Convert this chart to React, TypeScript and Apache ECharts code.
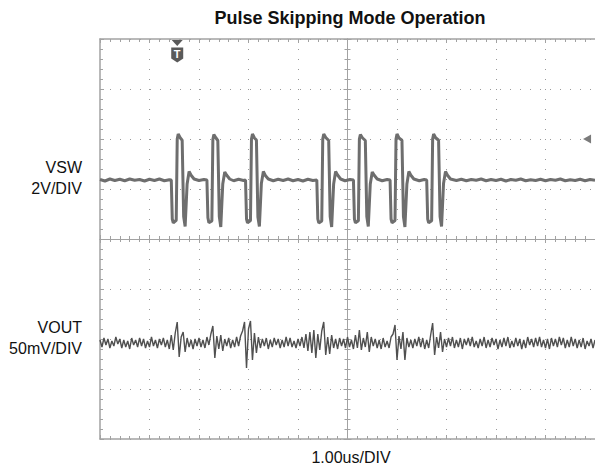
import React, { useEffect, useRef } from "react";
import * as echarts from "echarts";

// VSW trace, [time (us, 0 = screen centre), volts]
const vswPoints: [number, number][] = [
  [-5.0, 1.78], [-4.9, 1.72], [-4.8, 1.8], [-4.7, 1.74], [-4.6, 1.79], [-4.5, 1.73], [-4.4, 1.8],
  [-4.3, 1.75], [-4.2, 1.78], [-4.1, 1.72], [-4.0, 1.79], [-3.9, 1.74], [-3.8, 1.8], [-3.7, 1.73], [-3.6, 1.77],
  [-3.56, 1.76], [-3.54, 0.2], [-3.52, 0.05], [-3.46, 0.15], [-3.44, 3.4], [-3.42, 3.6], [-3.38, 3.45],
  [-3.34, 3.35], [-3.31, 0.3], [-3.28, -0.1], [-3.24, 1.6], [-3.2, 2.1], [-3.16, 1.95], [-3.1, 1.8],
  [-3.0, 1.74], [-2.9, 1.78],
  [-2.84, 1.76], [-2.82, 0.25], [-2.8, 0.05], [-2.74, 0.12], [-2.72, 3.38], [-2.7, 3.58], [-2.66, 3.45],
  [-2.62, 3.34], [-2.59, 0.3], [-2.56, -0.12], [-2.52, 1.6], [-2.48, 2.08], [-2.44, 1.95], [-2.38, 1.8],
  [-2.3, 1.73], [-2.2, 1.79], [-2.1, 1.74],
  [-2.06, 1.76], [-2.04, 0.2], [-2.02, 0.05], [-1.96, 0.14], [-1.94, 3.4], [-1.92, 3.6], [-1.88, 3.44],
  [-1.84, 3.36], [-1.81, 0.28], [-1.78, -0.1], [-1.74, 1.62], [-1.7, 2.1], [-1.66, 1.94], [-1.6, 1.8],
  [-1.5, 1.73], [-1.4, 1.79], [-1.3, 1.74], [-1.2, 1.8], [-1.1, 1.73], [-1.0, 1.78], [-0.9, 1.72],
  [-0.8, 1.79], [-0.7, 1.74],
  [-0.62, 1.76], [-0.6, 0.2], [-0.58, 0.04], [-0.52, 0.12], [-0.5, 3.4], [-0.48, 3.6], [-0.44, 3.46],
  [-0.38, 3.34], [-0.35, 0.3], [-0.32, -0.12], [-0.28, 1.6], [-0.24, 2.1], [-0.2, 1.96], [-0.14, 1.8],
  [-0.05, 1.73], [0.05, 1.78],
  [0.12, 1.76], [0.14, 0.2], [0.16, 0.05], [0.22, 0.13], [0.24, 3.4], [0.26, 3.58], [0.3, 3.45],
  [0.36, 3.34], [0.39, 0.3], [0.42, -0.1], [0.46, 1.6], [0.5, 2.08], [0.54, 1.95], [0.6, 1.8],
  [0.7, 1.73], [0.8, 1.78],
  [0.86, 1.76], [0.88, 0.2], [0.9, 0.05], [0.96, 0.14], [0.98, 3.4], [1.0, 3.6], [1.04, 3.44],
  [1.1, 3.35], [1.13, 0.3], [1.16, -0.12], [1.2, 1.6], [1.24, 2.1], [1.28, 1.95], [1.34, 1.8],
  [1.45, 1.73], [1.55, 1.78],
  [1.6, 1.76], [1.62, 0.2], [1.64, 0.05], [1.7, 0.13], [1.72, 3.4], [1.74, 3.6], [1.78, 3.45],
  [1.84, 3.35], [1.87, 0.3], [1.9, -0.1], [1.94, 1.62], [1.98, 2.1], [2.02, 1.95], [2.08, 1.8],
  [2.2, 1.74], [2.3, 1.79], [2.4, 1.73], [2.5, 1.78], [2.6, 1.75], [2.7, 1.8], [2.8, 1.73], [2.9, 1.78],
  [3.0, 1.74], [3.1, 1.79], [3.2, 1.72], [3.3, 1.78], [3.4, 1.75], [3.5, 1.8], [3.6, 1.73], [3.7, 1.77],
  [3.8, 1.74], [3.9, 1.79], [4.0, 1.73], [4.1, 1.78], [4.2, 1.75], [4.3, 1.8], [4.4, 1.73], [4.5, 1.77],
  [4.6, 1.74], [4.7, 1.79], [4.8, 1.73], [4.9, 1.78], [5.0, 1.75],
];

// VOUT trace (AC ripple, mV), sampled every voutStep us from voutStart
const voutStart = -5;
const voutStep = 0.04;
const voutMv: number[] = [
  3, -4, 5, -2, 4, -5, 2, -3, 6, -1,
  4, -5, 3, -4, 2, -6, 5, -2, 3, -4,
  5, -3, 4, -5, 2, -4, 6, -3, 3, -5,
  4, -2, 5, -4, 3, -6, 8, -7, 10, 21,
  -14, 6, 11, -9, 5, -4, 3, -6, 4, -3,
  5, -4, 3, -5, 6, -2, 9, 17, -15, 7,
  -6, 8, -8, 4, -3, 5, -5, 3, -4, 6,
  -3, 7, 12, 21, -25, 14, 22, -17, 10, -10,
  6, -5, 4, -3, 5, -6, 3, -4, 5, -2,
  4, -5, 3, -4, 6, -3, 5, -4, 2, -5,
  4, -3, 6, -5, 9, -8, 11, -10, 13, -15,
  9, -7, 12, 21, -12, 6, -11, 8, -5, 4,
  -6, 5, -3, 4, -5, 6, -4, 3, -6, 8,
  -5, 13, -7, 5, -4, 11, -9, 6, -3, 4,
  -5, 3, -6, 5, -4, 2, -5, 6, 9, 18,
  -17, 7, -6, 11, -17, 5, -4, 3, -5, 4,
  -3, 6, -4, 5, -6, 3, -5, 8, 20, -12,
  6, -5, 11, -9, 4, -4, 5, -3, 6, -5,
  3, -4, 5, -6, 4, -2, 5, -3, 6, -4,
  2, -5, 4, -3, 6, -5, 3, -4, 5, -2,
  4, -6, 3, -4, 5, -3, 6, -5, 2, -4,
  5, -3, 4, -6, 3, -5, 6, -2, 4, -4,
  5, -3, 6, -4, 3, -5, 4, -6, 5, -3,
  4, -4, 6, -2, 5, -5, 3, -4, 6, -3,
  4, -5, 3, -4, 5, -6, 2, -3, 4, -5,
  3,
];

const triggerTime = -3.44; // us
const triggerLevel = 3.4; // V
const titleText = "Pulse Skipping Mode Operation";
const timeScaleText = "1.00us/DIV";
const ch1Labels = ["VSW", "2V/DIV"];
const ch2Labels = ["VOUT", "50mV/DIV"];

const FONT = '"Liberation Sans", Arial, Helvetica, sans-serif';

export default function App() {
  const ref = useRef<HTMLDivElement>(null);

  useEffect(() => {
    if (!ref.current) return;
    const chart = echarts.init(ref.current, null, { renderer: "svg" });

    const borderColor = "#a2a2a2";
    const dotColor = "#9a9a9a";
    const traceColor = "#6e6e6e";

    const baseX = {
      type: "value",
      min: -5,
      max: 5,
      interval: 1,
      axisLabel: { show: false },
      splitLine: { show: false },
    };
    const baseGridY = {
      type: "value",
      min: -4,
      max: 4,
      interval: 1,
      axisLabel: { show: false },
      splitLine: { show: false },
    };

    const voutData = voutMv.map((v, i) => [voutStart + i * voutStep, v]);

    const textStyle = (text: string, size: number, bold: boolean, align: string) => ({
      text,
      font: `${bold ? "bold " : ""}${size}px ${FONT}`,
      fill: "#111111",
      textAlign: align,
      textVerticalAlign: "middle",
      align,
      verticalAlign: "middle",
    });

    const option: any = {
      animation: false,
      backgroundColor: "#ffffff",
      grid: { left: 100, top: 39, width: 500, height: 400, containLabel: false },
      xAxis: [
        {
          ...baseX,
          position: "bottom",
          axisLine: { show: true, onZero: true, onZeroAxisIndex: 0, lineStyle: { color: borderColor, width: 1 } },
          axisTick: { show: true, inside: true, length: 4, lineStyle: { color: borderColor } },
          minorTick: { show: true, splitNumber: 5, length: 3, lineStyle: { color: borderColor } },
          splitLine: { show: true, lineStyle: { color: dotColor, width: 1, type: [1, 9] } },
        },
        {
          ...baseX,
          position: "bottom",
          axisLine: { show: true, onZero: true, onZeroAxisIndex: 0, lineStyle: { color: borderColor, width: 1 } },
          axisTick: { show: true, inside: false, length: 4, lineStyle: { color: borderColor } },
          minorTick: { show: true, splitNumber: 5, length: 3, lineStyle: { color: borderColor } },
        },
        {
          ...baseX,
          position: "top",
          axisLine: { show: true, onZero: false, lineStyle: { color: borderColor, width: 1.5 } },
          axisTick: { show: true, inside: true, length: 4, lineStyle: { color: borderColor } },
          minorTick: { show: true, splitNumber: 5, length: 3, lineStyle: { color: borderColor } },
        },
        {
          ...baseX,
          position: "bottom",
          axisLine: { show: true, onZero: false, lineStyle: { color: borderColor, width: 1.5 } },
          axisTick: { show: true, inside: true, length: 4, lineStyle: { color: borderColor } },
          minorTick: { show: true, splitNumber: 5, length: 3, lineStyle: { color: borderColor } },
        },
      ],
      yAxis: [
        {
          ...baseGridY,
          position: "left",
          axisLine: { show: true, onZero: true, onZeroAxisIndex: 0, lineStyle: { color: borderColor, width: 1 } },
          axisTick: { show: true, inside: true, length: 4, lineStyle: { color: borderColor } },
          minorTick: { show: true, splitNumber: 5, length: 3, lineStyle: { color: borderColor } },
          splitLine: { show: true, lineStyle: { color: dotColor, width: 1, type: [1, 9] } },
        },
        { type: "value", min: -8.6, max: 7.4, show: false },
        { type: "value", min: -96, max: 304, show: false },
        {
          ...baseGridY,
          position: "left",
          axisLine: { show: true, onZero: true, onZeroAxisIndex: 0, lineStyle: { color: borderColor, width: 1 } },
          axisTick: { show: true, inside: false, length: 4, lineStyle: { color: borderColor } },
          minorTick: { show: true, splitNumber: 5, length: 3, lineStyle: { color: borderColor } },
        },
        {
          ...baseGridY,
          position: "left",
          axisLine: { show: true, onZero: false, lineStyle: { color: borderColor, width: 1.5 } },
          axisTick: { show: true, inside: true, length: 4, lineStyle: { color: borderColor } },
          minorTick: { show: true, splitNumber: 5, length: 3, lineStyle: { color: borderColor } },
        },
      ],
      series: [
        {
          name: "VOUT",
          type: "line",
          xAxisIndex: 0,
          yAxisIndex: 2,
          data: voutData,
          showSymbol: false,
          symbol: "none",
          lineStyle: { color: "#505050", width: 1.4 },
          z: 3,
        },
        {
          name: "VSW",
          type: "line",
          xAxisIndex: 0,
          yAxisIndex: 1,
          data: vswPoints,
          showSymbol: false,
          symbol: "none",
          lineStyle: { color: traceColor, width: 3 },
          z: 4,
          markPoint: {
            silent: true,
            data: [
              {
                coord: [triggerTime, 7.4],
                symbol: "triangle",
                symbolRotate: 180,
                symbolSize: [11, 6],
                symbolOffset: [0, 4],
                itemStyle: { color: "#5a5a5a" },
                label: { show: false },
              },
              {
                coord: [triggerTime, 7.4],
                symbol: "path://M0,0 L12,0 L12,11 L6,15 L0,11 Z",
                symbolSize: [12, 15],
                symbolOffset: [0, 16],
                itemStyle: { color: "#5a5a5a" },
                label: {
                  show: true,
                  formatter: "T",
                  color: "#ffffff",
                  fontWeight: "bold",
                  fontSize: 11,
                  fontFamily: FONT,
                  offset: [0, -1],
                },
              },
              {
                coord: [4.84, triggerLevel],
                symbol: "triangle",
                symbolRotate: 90,
                symbolSize: [9, 8],
                itemStyle: { color: "#7a7a7a" },
                label: { show: false },
              },
            ],
          },
        },
      ],
      graphic: [
        { type: "text", x: 350, y: 18, style: textStyle(titleText, 18, true, "center") },
        { type: "text", x: 82, y: 167, style: textStyle(ch1Labels[0], 16, false, "right") },
        { type: "text", x: 82, y: 188, style: textStyle(ch1Labels[1], 16, false, "right") },
        { type: "text", x: 82, y: 327, style: textStyle(ch2Labels[0], 16, false, "right") },
        { type: "text", x: 82, y: 348, style: textStyle(ch2Labels[1], 16, false, "right") },
        { type: "text", x: 351, y: 457, style: textStyle(timeScaleText, 16, false, "center") },
      ],
    };

    chart.setOption(option);
    return () => chart.dispose();
  }, []);

  return (
    <div
      ref={ref}
      style={{ position: "absolute", left: 0, top: 0, width: 595, height: 467, background: "#fff" }}
    />
  );
}
